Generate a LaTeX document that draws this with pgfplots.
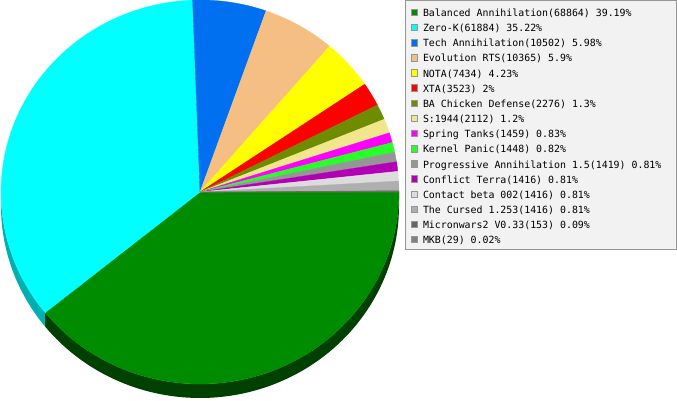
\documentclass[border=0pt]{standalone}
\usepackage{pgfplots}
\pgfplotsset{compat=1.18}
\usepgfplotslibrary{fillbetween}
\usepackage{fontspec}
\newfontfamily\legfont{DejaVu Sans Mono}
\newcommand\lf{\legfont\fontsize{9.9pt}{11pt}\selectfont}
\definecolor{cBA}{RGB}{0,140,0}
\definecolor{cZK}{RGB}{0,255,255}
\definecolor{cTA}{RGB}{0,112,240}
\definecolor{cEVO}{RGB}{245,190,130}
\definecolor{cNOTA}{RGB}{255,255,0}
\definecolor{cXTA}{RGB}{255,0,0}
\definecolor{cBAC}{RGB}{110,140,0}
\definecolor{cS}{RGB}{240,230,140}
\definecolor{cSP}{RGB}{255,0,255}
\definecolor{cKP}{RGB}{40,255,40}
\definecolor{cPA}{RGB}{150,150,150}
\definecolor{cCT}{RGB}{180,0,180}
\definecolor{cCB}{RGB}{220,220,220}
\definecolor{cTC}{RGB}{175,175,175}
\definecolor{cMW}{RGB}{100,100,100}
\definecolor{cMKB}{RGB}{128,128,128}
\definecolor{sBA}{RGB}{0,64,0}
\definecolor{sZK}{RGB}{0,175,175}
\definecolor{legbg}{RGB}{242,242,242}
\definecolor{legborder}{RGB}{150,150,150}
% total of all counts
\def\T{175716}
\gdef\cum{0}
% #1 count, #2 colour, #3 legend text
\newcommand\slice[3]{%
  \edef\sA{\fpeval{round(-(\cum+#1)*360/\T,4)}}%
  \edef\sB{\fpeval{round(-(\cum)*360/\T,4)}}%
  \xdef\cum{\fpeval{\cum+#1}}%
  \addplot[fill=#2, draw=#2, line width=0.3pt, domain=\sA:\sB, samples=70]
    ({200+199*cos(x)},{208+192*sin(x)}) -- (axis cs:200,208) -- cycle;
  \addlegendentry{#3}%
}
\begin{document}
\begin{tikzpicture}
\begin{axis}[
  width=677pt, height=400pt, scale only axis,
  xmin=0, xmax=677, ymin=0, ymax=400,
  hide axis, clip=false,
  legend image code/.code={\path[#1, draw=legborder, line width=0.6pt] (0pt,1pt) rectangle (6.5pt,7.5pt);},
  legend style={at={(axis cs:410.7,391.5)}, anchor=north west, draw=none, fill=none,
    inner sep=0pt, row sep=4.85pt, column sep=5pt, font=\lf,
    cells={anchor=base west},
    nodes={inner sep=0pt, text height=7.5pt, text depth=2.5pt, font=\lf}},
]
% legend box
\draw[draw=legborder, fill=legbg, line width=1pt] (axis cs:405,399.5) rectangle (axis cs:676,151);
% 3D sides (front half)
\edef\eBA{\fpeval{round(-68864*360/\T,4)}}
\addplot[name path=gt, draw=none, domain=\eBA:0, samples=90, forget plot] ({200+199*cos(x)},{208+192*sin(x)});
\addplot[name path=gb, draw=none, domain=\eBA:0, samples=90, forget plot] ({200+199*cos(x)},{194+192*sin(x)});
\addplot[fill=sBA, draw=none, forget plot] fill between[of=gt and gb];
\addplot[name path=ct, draw=none, domain=-180:\eBA, samples=40, forget plot] ({200+199*cos(x)},{208+192*sin(x)});
\addplot[name path=cb, draw=none, domain=-180:\eBA, samples=40, forget plot] ({200+199*cos(x)},{194+192*sin(x)});
\addplot[fill=sZK, draw=none, forget plot] fill between[of=ct and cb];
% top faces
\slice{68864}{cBA}{Balanced Annihilation(68864) 39.19\%}
\slice{61884}{cZK}{Zero-K(61884) 35.22\%}
\slice{10502}{cTA}{Tech Annihilation(10502) 5.98\%}
\slice{10365}{cEVO}{Evolution RTS(10365) 5.9\%}
\slice{7434}{cNOTA}{NOTA(7434) 4.23\%}
\slice{3523}{cXTA}{XTA(3523) 2\%}
\slice{2276}{cBAC}{BA Chicken Defense(2276) 1.3\%}
\slice{2112}{cS}{S:1944(2112) 1.2\%}
\slice{1459}{cSP}{Spring Tanks(1459) 0.83\%}
\slice{1448}{cKP}{Kernel Panic(1448) 0.82\%}
\slice{1419}{cPA}{Progressive Annihilation 1.5(1419) 0.81\%}
\slice{1416}{cCT}{Conflict Terra(1416) 0.81\%}
\slice{1416}{cCB}{Contact beta 002(1416) 0.81\%}
\slice{1416}{cTC}{The Cursed 1.253(1416) 0.81\%}
\slice{153}{cMW}{Micronwars2 V0.33(153) 0.09\%}
\slice{29}{cMKB}{MKB(29) 0.02\%}
\end{axis}
\pgfresetboundingbox
\path[use as bounding box] (0,0) rectangle (677pt,400pt);
\end{tikzpicture}
\end{document}
